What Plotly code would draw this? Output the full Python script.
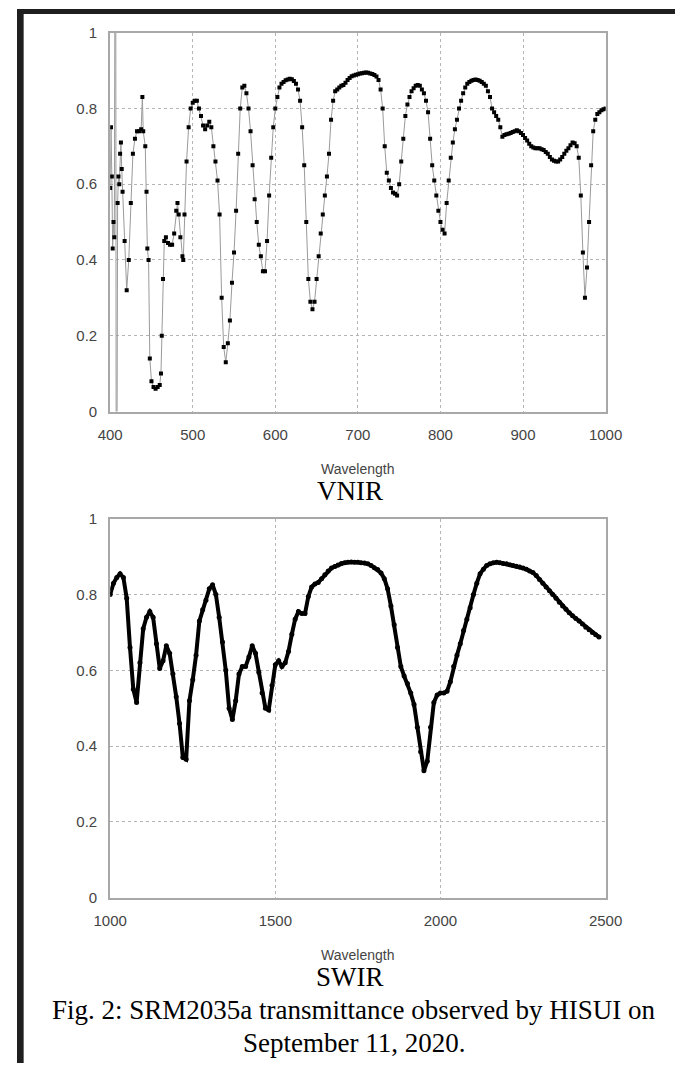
import plotly.graph_objects as go

W, H = 692, 1071

# ---------------- DATA ----------------
vnir_wavelength = [
    400, 401, 402, 403, 404, 405, 406.5, 407.5, 409, 410, 411, 412, 413, 414, 415,
    417.5, 420, 422.5, 425, 427.5, 430, 432.5, 435, 437.5, 439, 440, 442.5, 444, 445, 446.5, 448,
    450, 452.5, 455, 457.5, 460, 461.5, 462.5, 464, 465.5, 467.5, 470, 472.5, 475, 477.5,
    480, 481.5, 483, 485, 487.5, 488.5, 490, 492.5, 495, 497.5,
    500, 502.5, 505, 507.5, 510, 512.5, 515, 517.5, 520, 522.5, 525, 527.5, 530, 532.5, 535, 537.5,
    540, 542.5, 545, 547.5, 550, 552.5, 555, 557.5, 560, 562.5, 565, 567.5, 570, 572.5, 575, 577.5,
    580, 582.5, 585, 587.5, 590, 592.5, 595, 597.5, 600, 602.5, 605, 607.5, 610, 612.5, 615, 617.5,
    620, 622.5, 625, 627.5, 630, 632.5, 635, 637.5, 640, 642.5, 645, 647.5, 650, 652.5, 655, 657.5,
    660, 662.5, 665, 667.5, 670, 672.5, 675, 677.5, 680, 682.5, 685, 687.5, 690, 692.5, 695, 697.5,
    700, 702.5, 705, 707.5, 710, 712.5, 715, 717.5, 720, 722.5, 725, 727.5, 730, 732.5, 735, 737.5,
    740, 742.5, 745, 747.5, 750, 752.5, 755, 757.5, 760, 762.5, 765, 767.5, 770, 772.5, 775, 777.5,
    780, 782.5, 785, 787.5, 790, 792.5, 795, 797.5, 800, 802.5, 805, 807.5, 810, 812.5, 815, 817.5,
    820, 822.5, 825, 827.5, 830, 832.5, 835, 837.5, 840, 842.5, 845, 847.5, 850, 852.5, 855, 857.5,
    860, 862.5, 865, 867.5, 870, 872.5, 875, 877.5, 880, 882.5, 885, 887.5, 890, 892.5, 895, 897.5,
    900, 902.5, 905, 907.5, 910, 912.5, 915, 917.5, 920, 922.5, 925, 927.5, 930, 932.5, 935, 937.5,
    940, 942.5, 945, 947.5, 950, 952.5, 955, 957.5, 960, 962.5, 965, 967.5, 970, 972.5, 975, 977.5,
    980, 982.5, 985, 987.5, 990, 992.5, 995, 997.5, 1000,
]
vnir_transmittance = [
    0.59, 0.75, 0.62, 0.43, 0.50, 0.46, 1.80, -0.80, 0.55, 0.62, 0.60, 0.68, 0.71, 0.64, 0.58,
    0.45, 0.32, 0.40, 0.55, 0.68, 0.72, 0.74, 0.74, 0.745, 0.83, 0.74, 0.70, 0.58, 0.43, 0.40, 0.14,
    0.08, 0.065, 0.06, 0.065, 0.07, 0.10, 0.20, 0.35, 0.45, 0.46, 0.445, 0.44, 0.44, 0.47,
    0.53, 0.55, 0.52, 0.46, 0.41, 0.40, 0.52, 0.66, 0.75, 0.80,
    0.815, 0.82, 0.82, 0.80, 0.78, 0.755, 0.745, 0.755, 0.765, 0.75, 0.70, 0.66, 0.61, 0.52, 0.30, 0.17,
    0.13, 0.18, 0.24, 0.34, 0.42, 0.53, 0.68, 0.80, 0.855, 0.86, 0.84, 0.80, 0.74, 0.65, 0.56, 0.50,
    0.44, 0.41, 0.37, 0.37, 0.45, 0.57, 0.67, 0.75, 0.80, 0.83, 0.855, 0.865, 0.87, 0.874, 0.876, 0.878,
    0.877, 0.872, 0.865, 0.85, 0.82, 0.75, 0.65, 0.50, 0.35, 0.29, 0.27, 0.29, 0.35, 0.41, 0.47, 0.52,
    0.57, 0.62, 0.68, 0.77, 0.82, 0.845, 0.85, 0.855, 0.86, 0.862, 0.868, 0.875, 0.88, 0.885, 0.887, 0.889,
    0.89, 0.892, 0.893, 0.894, 0.895, 0.894, 0.892, 0.891, 0.888, 0.884, 0.875, 0.85, 0.80, 0.70, 0.63, 0.61,
    0.59, 0.578, 0.575, 0.57, 0.60, 0.66, 0.72, 0.78, 0.81, 0.83, 0.845, 0.853, 0.86, 0.862, 0.86, 0.85,
    0.84, 0.82, 0.79, 0.72, 0.65, 0.61, 0.57, 0.53, 0.50, 0.48, 0.47, 0.55, 0.61, 0.67, 0.71, 0.745,
    0.77, 0.80, 0.82, 0.84, 0.855, 0.865, 0.87, 0.873, 0.875, 0.876, 0.875, 0.873, 0.87, 0.865, 0.86, 0.845,
    0.83, 0.80, 0.79, 0.78, 0.77, 0.75, 0.725, 0.73, 0.732, 0.733, 0.735, 0.738, 0.74, 0.742, 0.74, 0.735,
    0.73, 0.722, 0.715, 0.707, 0.70, 0.697, 0.695, 0.695, 0.695, 0.692, 0.69, 0.685, 0.68, 0.672, 0.665, 0.662,
    0.66, 0.66, 0.665, 0.672, 0.68, 0.688, 0.695, 0.703, 0.71, 0.708, 0.70, 0.67, 0.57, 0.42, 0.30, 0.38,
    0.50, 0.65, 0.74, 0.77, 0.785, 0.79, 0.795, 0.798, 0.80,
]

swir_wavelength = [
    1000, 1010, 1020, 1030, 1040, 1050, 1060, 1070, 1080, 1090, 1100, 1110, 1120, 1130, 1140,
    1150, 1160, 1170, 1180, 1190, 1200, 1210, 1220, 1230, 1240, 1250, 1260, 1270, 1280, 1290,
    1300, 1310, 1320, 1330, 1340, 1350, 1360, 1370, 1380, 1390, 1400, 1410, 1420, 1430, 1440,
    1450, 1460, 1470, 1480, 1490, 1500, 1510, 1520, 1530, 1540, 1550, 1560, 1570, 1580, 1590,
    1600, 1610, 1620, 1630, 1640, 1650, 1660, 1670, 1680, 1690, 1700, 1710, 1720, 1730, 1740,
    1750, 1760, 1770, 1780, 1790, 1800, 1810, 1820, 1830, 1840, 1850, 1860, 1870, 1880, 1890,
    1900, 1910, 1920, 1930, 1940, 1950, 1960, 1970, 1980, 1990, 2000, 2010, 2020, 2030, 2040,
    2050, 2060, 2070, 2080, 2090, 2100, 2110, 2120, 2130, 2140, 2150, 2160, 2170, 2180, 2190,
    2200, 2210, 2220, 2230, 2240, 2250, 2260, 2270, 2280, 2290, 2300, 2310, 2320, 2330, 2340,
    2350, 2360, 2370, 2380, 2390, 2400, 2410, 2420, 2430, 2440, 2450, 2460, 2470, 2480,
]
swir_transmittance = [
    0.80, 0.83, 0.845, 0.855, 0.845, 0.79, 0.66, 0.55, 0.515, 0.62, 0.71, 0.74, 0.755, 0.74, 0.67,
    0.605, 0.625, 0.665, 0.645, 0.59, 0.53, 0.46, 0.37, 0.365, 0.52, 0.575, 0.64, 0.73, 0.76, 0.785,
    0.815, 0.826, 0.80, 0.74, 0.675, 0.60, 0.50, 0.47, 0.52, 0.59, 0.61, 0.61, 0.635, 0.665, 0.645,
    0.595, 0.54, 0.50, 0.495, 0.56, 0.615, 0.625, 0.61, 0.62, 0.65, 0.695, 0.735, 0.755, 0.75, 0.75,
    0.795, 0.82, 0.828, 0.832, 0.842, 0.852, 0.862, 0.87, 0.874, 0.878, 0.882, 0.884, 0.885, 0.886, 0.885,
    0.885, 0.884, 0.883, 0.881, 0.877, 0.871, 0.866, 0.857, 0.842, 0.815, 0.77, 0.72, 0.66, 0.61, 0.585,
    0.565, 0.54, 0.51, 0.45, 0.385, 0.335, 0.36, 0.45, 0.515, 0.535, 0.54, 0.54, 0.545, 0.57, 0.61,
    0.64, 0.67, 0.705, 0.735, 0.765, 0.80, 0.83, 0.855, 0.867, 0.877, 0.881, 0.884, 0.885, 0.884, 0.882,
    0.881, 0.879, 0.877, 0.875, 0.873, 0.87, 0.867, 0.862, 0.858, 0.85, 0.84, 0.83, 0.82, 0.81, 0.80,
    0.79, 0.78, 0.77, 0.761, 0.752, 0.744, 0.737, 0.73, 0.722, 0.714, 0.707, 0.70, 0.694, 0.688,
]

y_ticks = [0, 0.2, 0.4, 0.6, 0.8, 1]
y_tick_labels = ["0", "0.2", "0.4", "0.6", "0.8", "1"]
vnir_x_ticks = [400, 500, 600, 700, 800, 900, 1000]
swir_x_ticks = [1000, 1500, 2000, 2500]
x_title = "Wavelength"
panel_titles = ["VNIR", "SWIR"]
caption_lines = ["Fig. 2: SRM2035a transmittance observed by HISUI on", "September 11, 2020."]

# ---------------- LAYOUT HELPERS ----------------
def px_x(p):
    return p / W

def px_y(p):
    return 1 - p / H

PLOT_L, PLOT_R = 98, 619
VNIR_T, VNIR_B = 24, 409
SWIR_T, SWIR_B = 518, 903

fig = go.Figure()

fig.add_trace(go.Scatter(
    x=vnir_wavelength, y=vnir_transmittance, xaxis="x", yaxis="y",
    mode="lines+markers",
    line=dict(color="#9a9a9a", width=1),
    marker=dict(color="black", size=4, symbol="square"),
    cliponaxis=True, showlegend=False,
))
fig.add_trace(go.Scatter(
    x=swir_wavelength, y=swir_transmittance, xaxis="x2", yaxis="y2",
    mode="lines+markers",
    line=dict(color="black", width=4),
    marker=dict(color="black", size=5, symbol="circle"),
    cliponaxis=True, showlegend=False,
))

tick_font = dict(family="Liberation Sans, Arial, sans-serif", size=15, color="#444444")
grid = dict(showgrid=True, gridcolor="#b4b4b4", gridwidth=1, griddash="dot",
            showline=True, mirror=True, linecolor="#a8a8a8", linewidth=2,
            zeroline=False, ticks="", tickfont=tick_font, fixedrange=True)

fig.update_layout(
    width=W, height=H, autosize=False,
    margin=dict(l=0, r=0, t=0, b=0),
    paper_bgcolor="white", plot_bgcolor="white",
    xaxis=dict(domain=[px_x(PLOT_L), px_x(PLOT_R)], anchor="y", range=[400, 1000],
               tickvals=vnir_x_ticks, ticklabelstandoff=8, **grid),
    yaxis=dict(domain=[px_y(VNIR_B), px_y(VNIR_T)], anchor="x", range=[0, 1],
               tickvals=y_ticks, ticktext=y_tick_labels, ticklabelstandoff=8, **grid),
    xaxis2=dict(domain=[px_x(PLOT_L), px_x(PLOT_R)], anchor="y2", range=[1000, 2500],
                tickvals=swir_x_ticks, ticklabelstandoff=8, **grid),
    yaxis2=dict(domain=[px_y(SWIR_B), px_y(SWIR_T)], anchor="x2", range=[0, 1],
                tickvals=y_ticks, ticktext=y_tick_labels, ticklabelstandoff=8, **grid),
)

annotations = []
center_x = px_x((PLOT_L + PLOT_R) / 2)
for bottom, title in [(VNIR_B, panel_titles[0]), (SWIR_B, panel_titles[1])]:
    annotations.append(dict(text=x_title, x=center_x, y=px_y(bottom + 58), xref="paper", yref="paper",
                            showarrow=False, xanchor="center", yanchor="middle",
                            font=dict(family="Liberation Sans, Arial, sans-serif", size=14, color="#444444")))
    annotations.append(dict(text=title, x=center_x - px_x(8), y=px_y(bottom + 81), xref="paper", yref="paper",
                            showarrow=False, xanchor="center", yanchor="middle",
                            font=dict(family="Liberation Serif, Times New Roman, serif", size=27, color="black")))
for i, line in enumerate(caption_lines):
    annotations.append(dict(text=line, x=px_x(354), y=px_y(1017 + 34 * i), xref="paper", yref="paper",
                            showarrow=False, xanchor="center", yanchor="middle",
                            font=dict(family="Liberation Serif, Times New Roman, serif", size=27, color="black")))
fig.update_layout(annotations=annotations)

# dark screenshot frame on left and top edges
fig.update_layout(shapes=[
    dict(type="rect", xref="paper", yref="paper", x0=0, x1=px_x(7), y0=0, y1=1,
         fillcolor="#1f1f1f", line=dict(width=0), layer="above"),
    dict(type="rect", xref="paper", yref="paper", x0=0, x1=1, y0=px_y(5), y1=1,
         fillcolor="#1f1f1f", line=dict(width=0), layer="above"),
])

fig.write_html(
    "out.html",
    config={"displayModeBar": False},
    post_script="document.body.style.margin='0px'; document.body.style.overflow='hidden';",
)
